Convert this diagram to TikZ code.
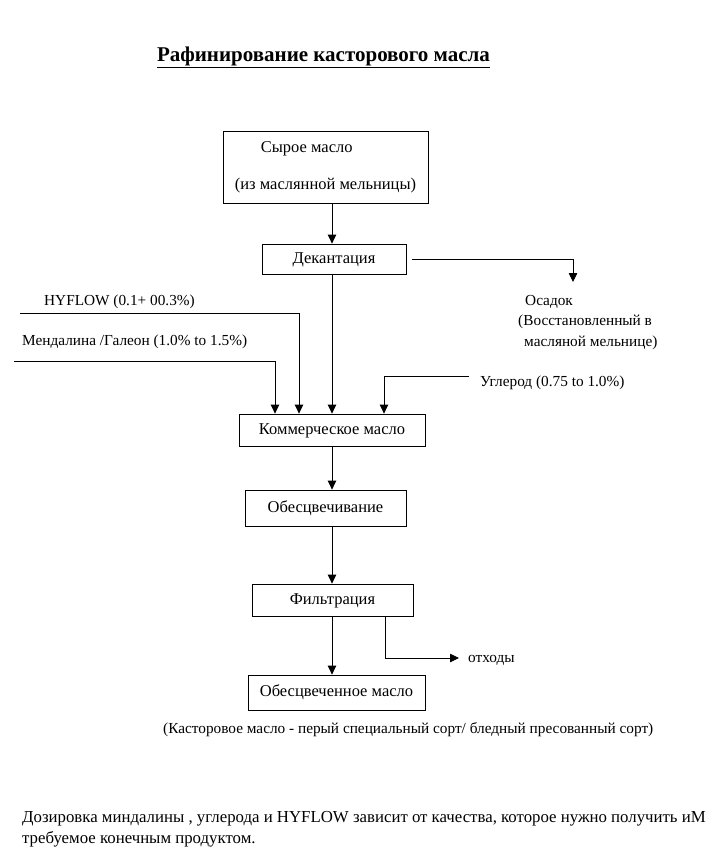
\documentclass[tikz,border=0pt]{standalone}
\usepackage{fontspec}
\setmainfont{Liberation Serif}
\usetikzlibrary{arrows.meta}

\begin{document}
\begin{tikzpicture}[x=1pt, y=-1pt,
    box/.style={draw, line width=0.8pt, inner sep=0pt, font=\fontsize{16.5}{19}\selectfont},
    stage/.style={box, text height=0.8em, text depth=0pt},
    lbl/.style={inner sep=0pt, align=left, font=\fontsize{15.3}{18}\selectfont},
    flow/.style={line width=0.8pt, -{Triangle[length=9pt,width=8.5pt]}}
  ]
  \useasboundingbox (0,0) rectangle (716,860);
  \coordinate (axis) at (332,0);

  \node[anchor=base, inner sep=0pt, font=\bfseries\fontsize{21}{24}\selectfont] (title) at (323.5,61) {\underline{Рафинирование касторового масла}};

  % main line
  \node[box, minimum width=205pt, minimum height=72pt, align=left] (raw) at (325.5,167) {\hspace*{26pt}Сырое масло\\[18pt](из маслянной мельницы)};
  \node[stage, minimum width=144pt, minimum height=30pt] (dec) at (334,259) {Декантация};
  \node[stage, minimum width=186pt, minimum height=32pt] (com) at (332,430) {Коммерческое масло};
  \node[stage, minimum width=161pt, minimum height=36pt] (bleach) at (325.5,508) {Обесцвечивание};
  \node[stage, minimum width=161pt, minimum height=32pt] (filt) at (332.5,600) {Фильтрация};
  \node[stage, minimum width=177pt, minimum height=35pt] (final) at (336.5,692.5) {Обесцвеченное масло};

  \draw[flow] (raw.south -| axis) -- (dec.north -| axis);
  \draw[flow] (dec.south -| axis) -- (com.north -| axis);
  \draw[flow] (com.south -| axis) -- (bleach.north -| axis);
  \draw[flow] (bleach.south -| axis) -- (filt.north -| axis);
  \draw[flow] (filt.south -| axis) -- (final.north -| axis);

  % side streams
  \coordinate (sedtip) at (573,282);
  \draw[flow, shorten <=6pt] (dec.east) -| (sedtip);
  \node[lbl, anchor=north west] (sed) at (518,295) {\hspace*{7pt}Осадок\\[2.5pt](Восстановленный в\\[2.5pt]\hspace*{6pt}масляной мельнице)};

  \coordinate (hyin) at (20,313);
  \node[lbl, anchor=base west] (hyflow) at (44,305) {HYFLOW (0.1+ 00.3\%)};
  \draw[flow] (hyin) -| ([xshift=-33pt]com.north);

  \coordinate (menin) at (14,361);
  \node[lbl, anchor=base west] (men) at (22,345) {Мендалина /Галеон (1.0\% to 1.5\%)};
  \draw[flow] (menin) -| ([xshift=-57pt]com.north);

  \coordinate (carbin) at (469,376);
  \node[lbl, anchor=base west] (carb) at (480,386) {Углерод (0.75 to 1.0\%)};
  \draw[flow] (carbin) -| ([xshift=52pt]com.north);

  \coordinate (wastetip) at (459,658);
  \draw[flow] ([xshift=52.5pt]filt.south) |- (wastetip);
  \node[lbl, anchor=base west] (waste) at (468,662) {отходы};

  % notes
  \node[lbl, anchor=base west] (grade) at (163,733) {(Касторовое масло - перый специальный сорт/ бледный пресованный сорт)};
  \node[lbl, anchor=north west, font=\fontsize{16.8}{21}\selectfont] (note) at (22,811) {Дозировка миндалины , углерода и HYFLOW зависит от качества, которое нужно получить иM\\требуемое конечным продуктом.};
\end{tikzpicture}
\end{document}
